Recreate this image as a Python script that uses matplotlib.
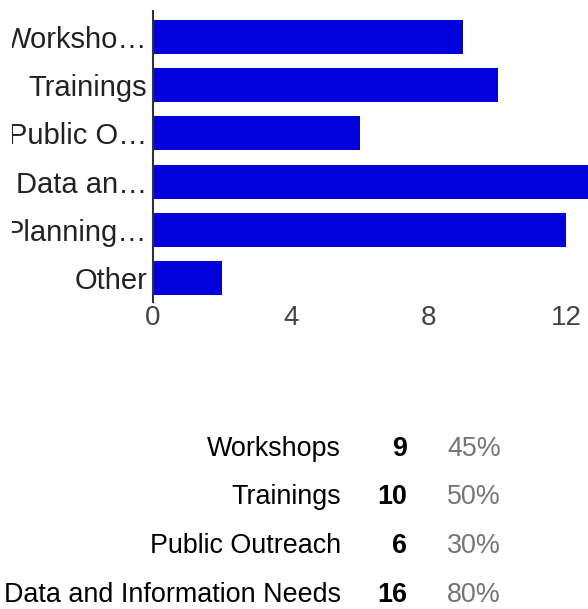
import matplotlib
matplotlib.use("Agg")
import matplotlib.pyplot as plt
from matplotlib.transforms import Bbox, TransformedBbox

# Data
categories = ["Worksho\u2026", "Trainings", "Public O\u2026", "Data an\u2026", "Planning\u2026", "Other"]
counts = [9, 10, 6, 16, 12, 2]
x_ticks = [0, 4, 8, 12]

table_labels = ["Workshops", "Trainings", "Public Outreach", "Data and Information Needs"]
table_counts = [9, 10, 6, 16]
table_percents = ["45%", "50%", "30%", "80%"]

W, H = 588, 609
BAR_COLOR = "#0000dc"
FONT = "Liberation Sans"


def fx(px):
    return px / W


def fy(py):
    return 1 - py / H


fig = plt.figure(figsize=(W / 100, H / 100), dpi=100)

# Bar chart (axes runs off the right edge, so the long bar gets clipped)
ax = fig.add_axes([fx(153), fy(302), fx(588) - fx(153), fy(11) - fy(302)])
ypos = list(range(len(categories)))
ax.barh(ypos, counts, height=0.705, color=BAR_COLOR)
ax.set_xlim(0, 435 / 34.45)
ax.set_ylim(5.5, -0.54)

for side in ["top", "right", "bottom"]:
    ax.spines[side].set_visible(False)
ax.spines["left"].set_color("#333333")
ax.spines["left"].set_linewidth(1.5)
ax.spines["left"].set_zorder(5)

ax.set_yticks(ypos)
ax.set_yticklabels(categories, fontsize=21, color="#222222", family=FONT)
ax.set_xticks(x_ticks)
ax.set_xticklabels([str(t) for t in x_ticks], fontsize=20, color="#444444", family=FONT)
ax.tick_params(axis="both", length=0)
ax.tick_params(axis="y", pad=4)
ax.tick_params(axis="x", pad=2)

# the category labels are cut off a little way in from the left edge
label_clip = TransformedBbox(Bbox([[fx(12), 0], [1, 1]]), fig.transFigure)
for lab in ax.get_yticklabels():
    lab.set_clip_box(label_clip)
    lab.set_clip_on(True)

# Summary table below the chart
row_y = [456, 504.5, 553, 601.5]
for lab, cnt, pct, y in zip(table_labels, table_counts, table_percents, row_y):
    fig.text(fx(341), fy(y), lab, ha="right", va="baseline", fontsize=19.4,
             color="#000000", family=FONT)
    fig.text(fx(407), fy(y), str(cnt), ha="right", va="baseline", fontsize=19.4,
             color="#000000", fontweight="bold", family=FONT)
    fig.text(fx(447), fy(y), pct, ha="left", va="baseline", fontsize=19.4,
             color="#757575", family=FONT)

fig.savefig("out.png", dpi=100)
